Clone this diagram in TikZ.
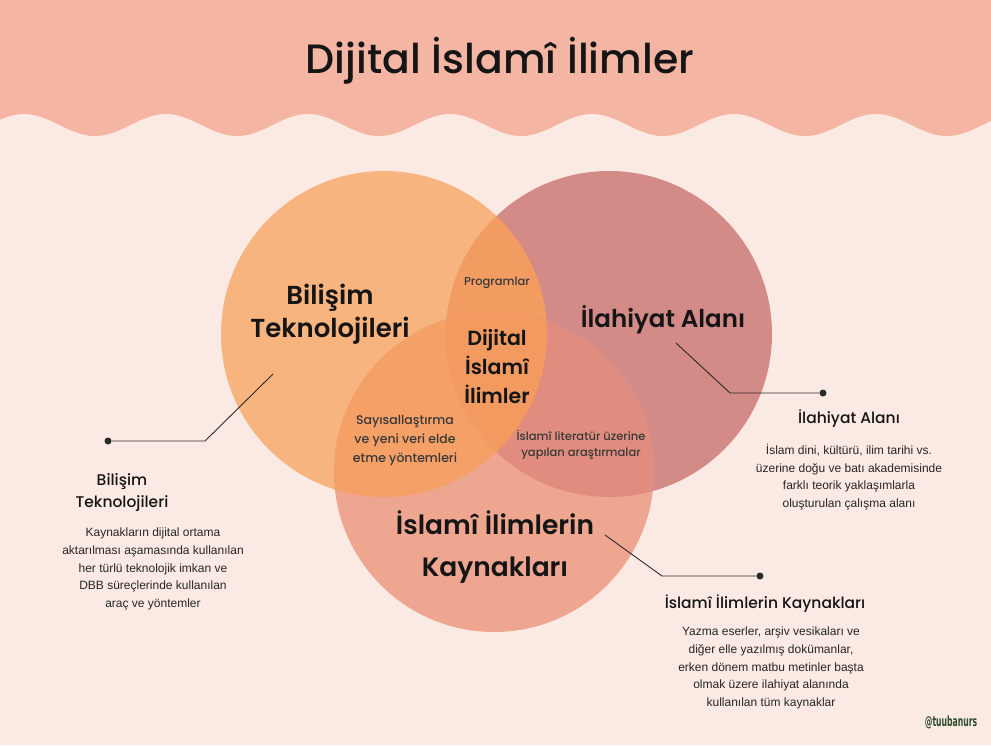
\documentclass[tikz,border=0pt]{standalone}
\usepackage{fontspec}
\setmainfont{Poppins}
\newfontfamily\popmed{Poppins Medium}
\newfontfamily\popsb{Poppins SemiBold}
\newfontfamily\bodyf{Liberation Sans}
\newfontfamily\wmf{DejaVu Sans}
\definecolor{bgc}{HTML}{FBEAE3}
\definecolor{headc}{HTML}{F4B5A3}
\definecolor{lc}{HTML}{F8B47E}
\definecolor{rc}{HTML}{D38B87}
\definecolor{bc}{HTML}{EFA690}
\definecolor{lrc}{HTML}{F39C62}
\definecolor{lbc}{HTML}{F5A066}
\definecolor{rbc}{HTML}{E08D7F}
\definecolor{lrbc}{HTML}{F39A60}
\definecolor{inkc}{HTML}{151515}
\definecolor{bodyc}{HTML}{262626}
\definecolor{linec}{HTML}{2A2A2A}
\definecolor{wmc}{HTML}{2F4A2C}
\tikzset{
  biglabel/.style={align=center, text=inkc, font=\popsb\fontsize{26}{33}\selectfont},
  midlabel/.style={align=center, text=inkc, font=\popsb\fontsize{20.5}{29}\selectfont},
  smalllabel/.style={align=center, text=inkc!85, font=\popmed\fontsize{12.5}{19}\selectfont},
  annottitle/.style={align=center, text=inkc, font=\popmed\fontsize{15.5}{22}\selectfont},
  annotbody/.style={align=center, text=bodyc, font=\bodyf\fontsize{12}{17.6}\selectfont},
  dotnode/.style={circle, fill=linec, inner sep=0pt, minimum size=7pt},
  leader/.style={draw=linec, line width=0.9pt},
}
\begin{document}
\begin{tikzpicture}[x=1pt,y=-1pt]
\useasboundingbox (0,0) rectangle (991,745);
\fill[bgc] (0,0) rectangle (991,745);
% header with wavy edge
\fill[headc] (0,0) -- (991,0) -- plot[domain=991:0, samples=300] (\x, {125+11*cos(2.53521*(\x-95))}) -- cycle;
\node[font=\popmed\fontsize{41}{50}\selectfont, text=inkc] (title) at (500,61) {Dijital İslamî İlimler};
% circles
\def\Lc{(384,334) circle (163)}
\def\Rc{(609,334) circle (163)}
\def\Bc{(494,472) circle (160)}
\fill[lc] \Lc;
\fill[rc] \Rc;
\fill[bc] \Bc;
\begin{scope}\clip \Lc; \fill[lrc] \Rc; \end{scope}
\begin{scope}\clip \Lc; \fill[lbc] \Bc; \end{scope}
\begin{scope}\clip \Rc; \fill[rbc] \Bc; \end{scope}
\begin{scope}\clip \Lc; \clip \Rc; \fill[lrbc] \Bc; \end{scope}
% circle labels
\node[biglabel] (bt) at (330,314) {Bilişim\\Teknolojileri};
\node[biglabel, font=\popsb\fontsize{24.5}{33}\selectfont] (ia) at (663,320) {İlahiyat Alanı};
\node[biglabel, font=\popsb\fontsize{26.5}{42}\selectfont] (ik) at (495,547) {İslamî İlimlerin\\Kaynakları};
\node[midlabel] (dii) at (497,367) {Dijital\\İslamî\\İlimler};
\node[smalllabel, font=\popmed\fontsize{11.5}{16}\selectfont] (prog) at (497,283) {Programlar};
\node[smalllabel] (say) at (405,440) {Sayısallaştırma\\ve yeni veri elde\\etme yöntemleri};
\node[smalllabel, font=\popmed\fontsize{11.5}{16.5}\selectfont] (lit) at (581,445) {İslamî literatür üzerine\\yapılan araştırmalar};
% left annotation
\node[dotnode] (d1) at (108,441) {};
\coordinate (c1) at (205,441);
\coordinate (e1) at (273,374);
\draw[leader] (d1) -- (c1) -- (e1);
\node[annottitle] (t1) at (122,493) {Bilişim\\Teknolojileri};
\node[annotbody] (b1) at (153,569) {Kaynakların dijital ortama\\aktarılması aşamasında kullanılan\\her türlü teknolojik imkan ve\\DBB süreçlerinde kullanılan\\araç ve yöntemler};
% right annotation
\node[dotnode] (d2) at (823,393) {};
\coordinate (c2) at (730,393);
\coordinate (e2) at (676,343);
\draw[leader] (d2) -- (c2) -- (e2);
\node[annottitle] (t2) at (849,419) {İlahiyat Alanı};
\node[annotbody] (b2) at (849,477) {İslam dini, kültürü, ilim tarihi vs.\\üzerine doğu ve batı akademisinde\\farklı teorik yaklaşımlarla\\oluşturulan çalışma alanı};
% bottom annotation
\node[dotnode] (d3) at (760,576) {};
\coordinate (c3) at (662,576);
\coordinate (e3) at (605,535);
\draw[leader] (d3) -- (c3) -- (e3);
\node[annottitle] (t3) at (765,604) {İslamî İlimlerin Kaynakları};
\node[annotbody] (b3) at (771,668) {Yazma eserler, arşiv vesikaları ve\\diğer elle yazılmış dokümanlar,\\erken dönem matbu metinler başta\\olmak üzere ilahiyat alanında\\kullanılan tüm kaynaklar};
% watermark
\node[text=wmc, font=\wmf\bfseries\fontsize{14}{16}\selectfont] (wm) at (951,722) {\scalebox{0.55}[1]{@tuubanurs}};
\end{tikzpicture}
\end{document}
